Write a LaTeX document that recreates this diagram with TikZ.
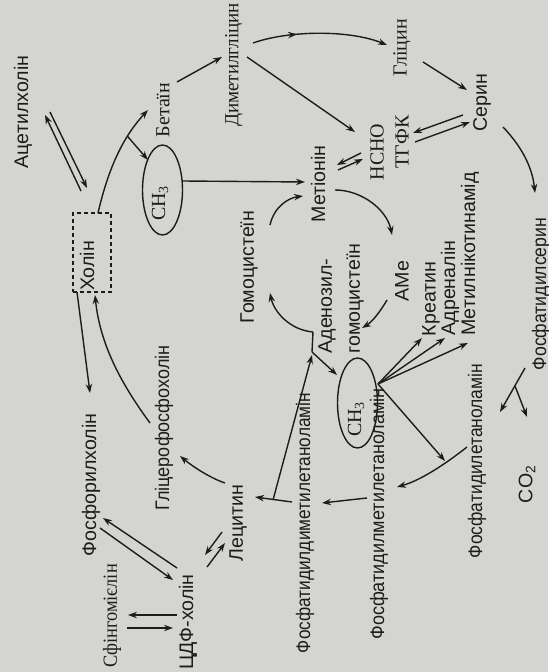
\documentclass[tikz,border=0pt]{standalone}
\usepackage{fontspec}
\setmainfont{Liberation Serif}
\setsansfont{Liberation Sans}
\usetikzlibrary{arrows.meta,shapes.geometric,decorations.markings}
\definecolor{bg}{RGB}{212,212,209}
\definecolor{ink}{RGB}{28,28,28}
\newcommand{\cnd}[2]{\scalebox{#1}[1]{#2}}
\begin{document}
\begin{tikzpicture}[x=0.5pt,y=-0.5pt,
  lbl/.style={rotate=90,inner sep=0pt,text=ink,font=\sffamily\fontsize{9.8}{14}\selectfont},
  slbl/.style={lbl,font=\rmfamily\fontsize{10}{12}\selectfont},
  arr/.style={draw=ink,line width=0.7pt,-{Stealth[length=4.5pt,width=3.2pt]}},
  ln/.style={draw=ink,line width=0.7pt},
  ell/.style={ellipse,draw=ink,line width=0.7pt,minimum width=45pt,minimum height=20pt,inner sep=0pt,rotate=90},
  midarr/.style={postaction={decorate},decoration={markings,mark=at position 0.33 with {\arrow{Stealth[length=4.5pt,width=3.2pt]}}}}]
\fill[bg] (0,0) rectangle (548,672);
\useasboundingbox (0,0) rectangle (548,672);
\clip (0,0) rectangle (548,672);

% ---------- labels ----------
\node[lbl]  (acetyl)  at (23,112)  {Ацетилхолін};
\node[slbl] (betain)  at (163,110) {Бетаїн};
\node[slbl] (dmg)     at (234,65)  {\cnd{0.95}{Диметилгліцин}};
\node[slbl] (gly)     at (402,48)  {Гліцин};
\node[lbl]  (ser)     at (482,103) {Серин};
\node[slbl] (hcho)    at (377,152) {НСНО};
\node[slbl] (thf)     at (402,142) {ТГФК};
\node[lbl]  (met)     at (318,184) {Метіонін};
\node[draw=ink,dashed,dash pattern=on 2pt off 1.5pt,line width=0.6pt,minimum width=19pt,minimum height=39.5pt,inner sep=0pt] (cholbox) at (92,252.5) {};
\node[lbl]  (chol)    at (87,266)  {Холін};
\node[ell]  (ch3a)    at (162.5,190) {};
\node[lbl,font=\rmfamily\fontsize{10}{12}\selectfont] (ch3atext) at (160,203) {CH\textsubscript{3}};
\node[lbl]  (hcy)     at (249,267) {Гомоцистеїн};
\node[lbl,align=left] (adhcy) at (341,298.5) {Аденозил-\\гомоцистеїн};
\node[lbl]  (ame)     at (402,281) {АМе};
\node[lbl]  (creat)   at (431,299) {Креатин};
\node[lbl]  (adren)   at (450,288) {Адреналін};
\node[lbl]  (mna)     at (470,254) {Метилнікотинамід};
\node[ell]  (ch3b)    at (357.5,403) {};
\node[lbl,font=\rmfamily\fontsize{10}{12}\selectfont] (ch3btext) at (356,419) {CH\textsubscript{3}};
\node[lbl]  (ps)      at (541,294) {\cnd{0.9}{Фосфатидилсерин}};
\node[lbl]  (pe)      at (477,461) {\cnd{0.89}{Фосфатидилетаноламін}};
\node[lbl]  (co2)     at (527,484) {CO\textsubscript{2}};
\node[lbl]  (pme)     at (379,514) {\cnd{0.92}{Фосфатидилметилетаноламін}};
\node[lbl]  (pdme)    at (305,523) {\cnd{0.88}{Фосфатидилдиметилетаноламін}};
\node[lbl]  (lec)     at (238,523) {Лецитин};
\node[lbl]  (gpc)     at (164,428) {\cnd{0.92}{Гліцерофосфохолін}};
\node[lbl]  (pcho)    at (91,485)  {Фосфорилхолін};
\node[lbl]  (cdp)     at (188,622) {ЦДФ-холін};
\node[slbl] (sph)     at (112,616) {\cnd{0.92}{Сфінгомієлін}};

% ---------- connector points ----------
\coordinate (acA1) at (81,191);  \coordinate (acA2) at (45,115);
\coordinate (acB1) at (50,112);  \coordinate (acB2) at (87,188);
\coordinate (chTop) at (98,213); \coordinate (betIn) at (148,110);
\coordinate (ch3aIn) at (148,160);
\coordinate (betOut) at (177,82); \coordinate (dmgIn) at (222,57);
\coordinate (dmgOut) at (253,43); \coordinate (glyIn) at (387,45);
\coordinate (dmgOut2) at (247,57); \coordinate (hchoIn) at (355,132);
\coordinate (ch3aOut) at (182,181); \coordinate (metIn) at (305,182);
\coordinate (hA1) at (361,153); \coordinate (hA2) at (337,165);
\coordinate (hB1) at (338,170); \coordinate (hB2) at (363,159);
\coordinate (glyOut) at (423,62); \coordinate (serIn) at (467,90);
\coordinate (sA1) at (463,115); \coordinate (sA2) at (413,133);
\coordinate (sB1) at (415,142); \coordinate (sB2) at (470,122);
\coordinate (serOut) at (503,127); \coordinate (psIn) at (535,193);
\coordinate (metOut) at (335,190); \coordinate (ameIn) at (392,235);
\coordinate (ameOut) at (387,300); \coordinate (adIn) at (362,328);
\coordinate (J1) at (313,332); \coordinate (hcyIn) at (270,293);
\coordinate (hcyOut) at (270,225); \coordinate (metIn2) at (303,196);
\coordinate (J2) at (312,352); \coordinate (ch3bIn) at (337,375);
\coordinate (Jlow) at (273,500); \coordinate (J2in) at (312,355);
\coordinate (pmeOut) at (367,498); \coordinate (pdmeIn) at (322,503);
\coordinate (pdmeOut) at (292,502); \coordinate (lecIn) at (255,497);
\coordinate (peOut) at (467,447); \coordinate (pmeIn) at (397,487);
\coordinate (F) at (378,384);
\coordinate (creatIn) at (422,338); \coordinate (adrenIn) at (445,338);
\coordinate (mnaIn) at (468,343); \coordinate (peJoin) at (445,461);
\coordinate (psOut) at (525,368); \coordinate (peIn) at (500,412);
\coordinate (psBr) at (515,386); \coordinate (co2In) at (527,417);
\coordinate (lecOut) at (225,483); \coordinate (gpcIn) at (180,456);
\coordinate (gpcOut) at (150,423); \coordinate (cholIn) at (95,295);
\coordinate (cholOut) at (77,292); \coordinate (pchoIn) at (90,393);
\coordinate (pA1) at (177,568); \coordinate (pA2) at (103,518);
\coordinate (pB1) at (100,528); \coordinate (pB2) at (173,580);
\coordinate (cA1) at (177,615); \coordinate (cA2) at (128,615);
\coordinate (cB1) at (127,628); \coordinate (cB2) at (173,628);
\coordinate (lA1) at (222,532); \coordinate (lA2) at (205,555);
\coordinate (lB1) at (207,567); \coordinate (lB2) at (225,543);

% ---------- connectors ----------
\draw[arr] (acA1) -- (acA2);
\draw[arr] (acB1) -- (acB2);
\draw[arr] (chTop) .. controls (108,170) and (122,138) .. coordinate[pos=0.7] (br1) (betIn);
\draw[arr] (br1) -- (ch3aIn);
\draw[arr] (betOut) -- (dmgIn);
\draw[arr,midarr] (dmgOut) .. controls (290,30) and (350,30) .. (glyIn);
\draw[arr] (dmgOut2) -- (hchoIn);
\draw[arr] (ch3aOut) -- (metIn);
\draw[arr] (hA1) -- (hA2);
\draw[arr] (hB1) -- (hB2);
\draw[arr] (glyOut) -- (serIn);
\draw[arr] (sA1) -- (sA2);
\draw[arr] (sB1) -- (sB2);
\draw[arr] (serOut) .. controls (520,145) and (532,165) .. (psIn);
\draw[arr] (metOut) .. controls (362,190) and (387,210) .. (ameIn);
\draw[arr] (ameOut) .. controls (380,312) and (372,322) .. (adIn);
\draw[arr] (J1) .. controls (290,330) and (274,312) .. (hcyIn);
\draw[arr] (hcyOut) .. controls (274,207) and (288,198) .. (metIn2);
\draw[ln] (J1) -- (J2);
\draw[arr] (J2) -- (ch3bIn);
\draw[arr] (Jlow) -- (J2in);
\draw[arr] (pmeOut) -- (pdmeIn);
\draw[arr] (pdmeOut) -- (lecIn);
\draw[arr] (peOut) .. controls (448,462) and (422,480) .. (pmeIn);
\draw[arr] (F) -- (creatIn);
\draw[arr] (F) -- (adrenIn);
\draw[arr] (F) -- (mnaIn);
\draw[arr] (F) -- (peJoin);
\draw[arr] (psOut) -- (peIn);
\draw[arr] (psBr) -- (co2In);
\draw[arr] (lecOut) .. controls (210,478) and (192,466) .. (gpcIn);
\draw[arr] (gpcOut) .. controls (122,385) and (100,345) .. (cholIn);
\draw[arr] (cholOut) -- (pchoIn);
\draw[arr] (pA1) -- (pA2);
\draw[arr] (pB1) -- (pB2);
\draw[arr] (cA1) -- (cA2);
\draw[arr] (cB1) -- (cB2);
\draw[arr] (lA1) -- (lA2);
\draw[arr] (lB1) -- (lB2);
\end{tikzpicture}
\end{document}
